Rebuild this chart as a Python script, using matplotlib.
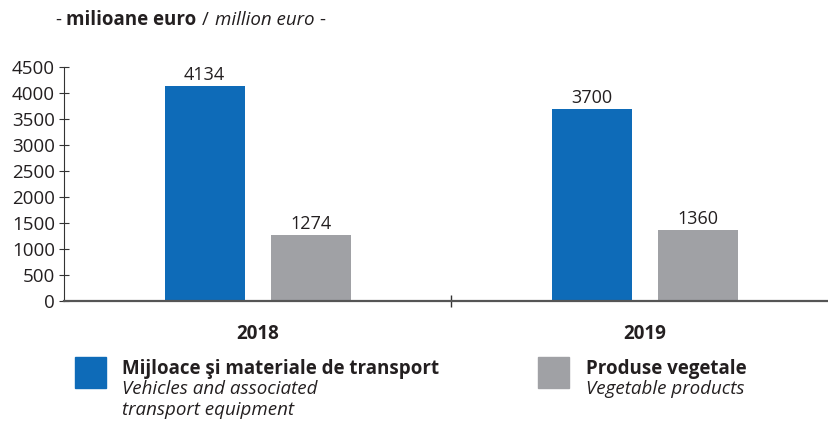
import matplotlib
matplotlib.use("Agg")
import matplotlib.pyplot as plt
from matplotlib.patches import Rectangle
import numpy as np

plt.rcParams['font.family'] = ['Open Sans', 'DejaVu Sans']

years = ["2018", "2019"]
transport = [4134, 3700]
vegetale = [1274, 1360]
yticks = [0, 500, 1000, 1500, 2000, 2500, 3000, 3500, 4000, 4500]

blue = "#0E6BB8"
gray = "#A0A1A5"
txt = "#231F20"

fig = plt.figure(figsize=(8.29, 4.21), dpi=100)
ax = fig.add_axes([64/829, 1-301/421, 1-64/829, (301-67)/421])

x = np.arange(len(years))
off = 0.137
w = 0.207
b1 = ax.bar(x - off, transport, w, color=blue)
b2 = ax.bar(x + off, vegetale, w, color=gray)
for bars in (b1, b2):
    for r in bars:
        ax.annotate(f"{int(r.get_height())}", (r.get_x() + r.get_width()/2, r.get_height()),
                    xytext=(0, 1.5), textcoords="offset points", ha="center", va="bottom",
                    fontsize=13, color=txt)

ax.set_xlim(-0.5, 1.475)
ax.set_ylim(0, 4500)
ax.set_yticks(yticks)
ax.set_yticklabels([str(t) for t in yticks], fontsize=13.5, color=txt)
ax.set_xticks([0.5])
ax.set_xticklabels([""])
ax.tick_params(axis='y', direction='inout', length=7, width=0.8, color="#333333", pad=3)
ax.tick_params(axis='x', direction='inout', length=8, width=1.0, color="#333333")
for s in ("top", "right"):
    ax.spines[s].set_visible(False)
ax.spines['left'].set_color("#333333")
ax.spines['left'].set_linewidth(0.8)
ax.spines['bottom'].set_color("#555555")
ax.spines['bottom'].set_linewidth(1.6)

for xi, y in zip(x, years):
    ax.annotate(y, (xi, 0), xytext=(0, -24), textcoords="offset points",
                ha="center", va="center", fontsize=13.5, fontweight="bold", color=txt,
                annotation_clip=False)

# title, chained pieces
renderer = fig.canvas.get_renderer()
xpos = 55
pieces = [("-", "normal", "normal", 5), ("milioane euro", "bold", "normal", 6),
          ("/", "normal", "normal", 6), ("million euro", "normal", "italic", 5), ("-", "normal", "normal", 0)]
for s, wt, st, gap in pieces:
    t = fig.text(xpos/829, 1-20/421, s, fontsize=13.5, fontweight=wt, style=st, color=txt,
                 va="center", ha="left")
    bb = t.get_window_extent(renderer)
    xpos += bb.width + gap

# legend
fig.patches.append(Rectangle((75/829, 1-388/421), 31/829, 31/421, transform=fig.transFigure, color=blue))
fig.patches.append(Rectangle((538/829, 1-388/421), 31/829, 31/421, transform=fig.transFigure, color=gray))
fig.text(122/829, 1-369/421, "Mijloace şi materiale de transport", fontsize=13.5, fontweight="bold", color=txt, va="center")
fig.text(122/829, 1-389/421, "Vehicles and associated", fontsize=13.5, style="italic", color=txt, va="center")
fig.text(122/829, 1-410/421, "transport equipment", fontsize=13.5, style="italic", color=txt, va="center")
fig.text(586/829, 1-369/421, "Produse vegetale", fontsize=13.5, fontweight="bold", color=txt, va="center")
fig.text(586/829, 1-389/421, "Vegetable products", fontsize=13.5, style="italic", color=txt, va="center")

fig.savefig("out.png", dpi=100)
